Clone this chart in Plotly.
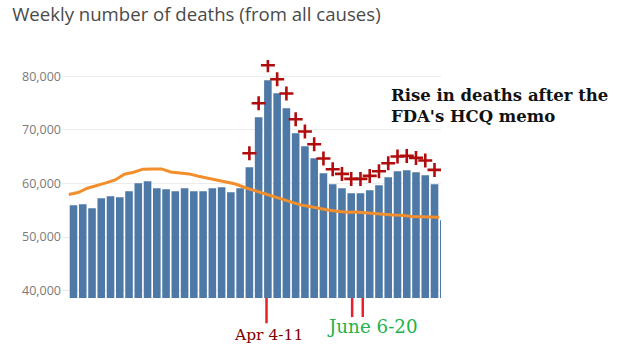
import plotly.graph_objects as go

# ---- data ----
weeks = list(range(41))
weekly_deaths = [55950, 56140, 55400, 57260, 57630, 57440, 58560, 60050, 60430, 59120,
                 58940, 58560, 59120, 58560, 58560, 59120, 59310, 58380, 59120, 63030,
                 72370, 79270, 76850, 74050, 69380, 66960, 64720, 61920, 59870, 59120,
                 58190, 58190, 58750, 59680, 61170, 62290, 62480, 62110, 61550, 59870,
                 53150]
expected_x = [w - 0.5 for w in weeks]
expected_deaths = [57950, 58320, 59120, 59550, 60110, 60670, 61730, 62110, 62670, 62720,
                   62720, 62160, 61980, 61790, 61360, 60990, 60670, 60300, 59900, 59250,
                   58700, 58190, 57630, 57070, 56510, 56010, 55710, 55340, 55070, 54830,
                   54650, 54700, 54510, 54400, 54270, 54140, 54090, 53840, 53770, 53770,
                   53710]
excess_weeks = list(range(19, 40))
excess_marks = [65650, 74980, 82070, 79460, 76790, 72000, 69700, 67330, 64660, 62670,
                61790, 60860, 60860, 61420, 62290, 63790, 65040, 65150, 64780, 64290,
                62540]
event_weeks = [20.85, 30.1, 31.25]
event_line_len = [-0.106, -0.08, -0.08]
y_ticks = [40000, 50000, 60000, 70000, 80000]
title_text = "Weekly number of deaths (from all causes)"
note_text = "Rise in deaths after the<br>FDA's HCQ memo"
apr_label = "Apr 4-11"
june_label = "June 6-20"

fig = go.Figure()
fig.add_trace(go.Bar(x=weeks, y=weekly_deaths, marker=dict(color="#4e79a7", line=dict(width=0)),
                     hoverinfo="skip"))
fig.add_trace(go.Scatter(x=expected_x, y=expected_deaths, mode="lines",
                         line=dict(color="#f28e2b", width=3), hoverinfo="skip"))
fig.add_trace(go.Scatter(x=excess_weeks, y=excess_marks, mode="markers",
                         marker=dict(symbol="cross-thin", size=10,
                                     line=dict(width=2.6, color="#b10c0c")),
                         hoverinfo="skip"))

for w, l in zip(event_weeks, event_line_len):
    fig.add_shape(type="line", xref="x", yref="paper", x0=w, x1=w, y0=0, y1=l,
                  line=dict(color="#e8202a", width=2.5))

fig.add_annotation(xref="x", yref="paper", x=21.05, y=-0.155, text=apr_label, showarrow=False,
                   xanchor="center", yanchor="middle",
                   font=dict(family="DejaVu Serif", size=15.5, color="#800000"))
fig.add_annotation(xref="x", yref="paper", x=32.25, y=-0.12, text=june_label, showarrow=False,
                   xanchor="center", yanchor="middle",
                   font=dict(family="DejaVu Serif", size=18.3, color="#23b24b"))
fig.add_annotation(xref="paper", yref="paper", x=0.8636, y=0.805, text="<b>" + note_text + "</b>",
                   showarrow=False, xanchor="left", yanchor="middle", align="left",
                   font=dict(family="DejaVu Serif", size=16.5, color="#111111"))

fig.update_layout(
    width=640, height=354,
    margin=dict(l=62, r=199, t=60, b=56),
    paper_bgcolor="white", plot_bgcolor="white",
    showlegend=False, bargap=0.18,
    title=dict(text=title_text, xref="container", yref="container", x=0.019, y=0.958,
               xanchor="left", yanchor="middle",
               font=dict(family="Open Sans", size=18.6, color="#4a4a4a")),
    xaxis=dict(range=[-1.242, 39.70], showticklabels=False, showgrid=False,
               zeroline=False, showline=False, ticks=""),
    yaxis=dict(range=[38640, 83040], tickvals=y_ticks, tickformat=",", showgrid=True,
               gridcolor="#ececec", gridwidth=1, zeroline=False, showline=False, ticks="",
               tickfont=dict(family="Open Sans", size=12.5, color="#7a7a7a")),
)

fig.write_html("out.html")
